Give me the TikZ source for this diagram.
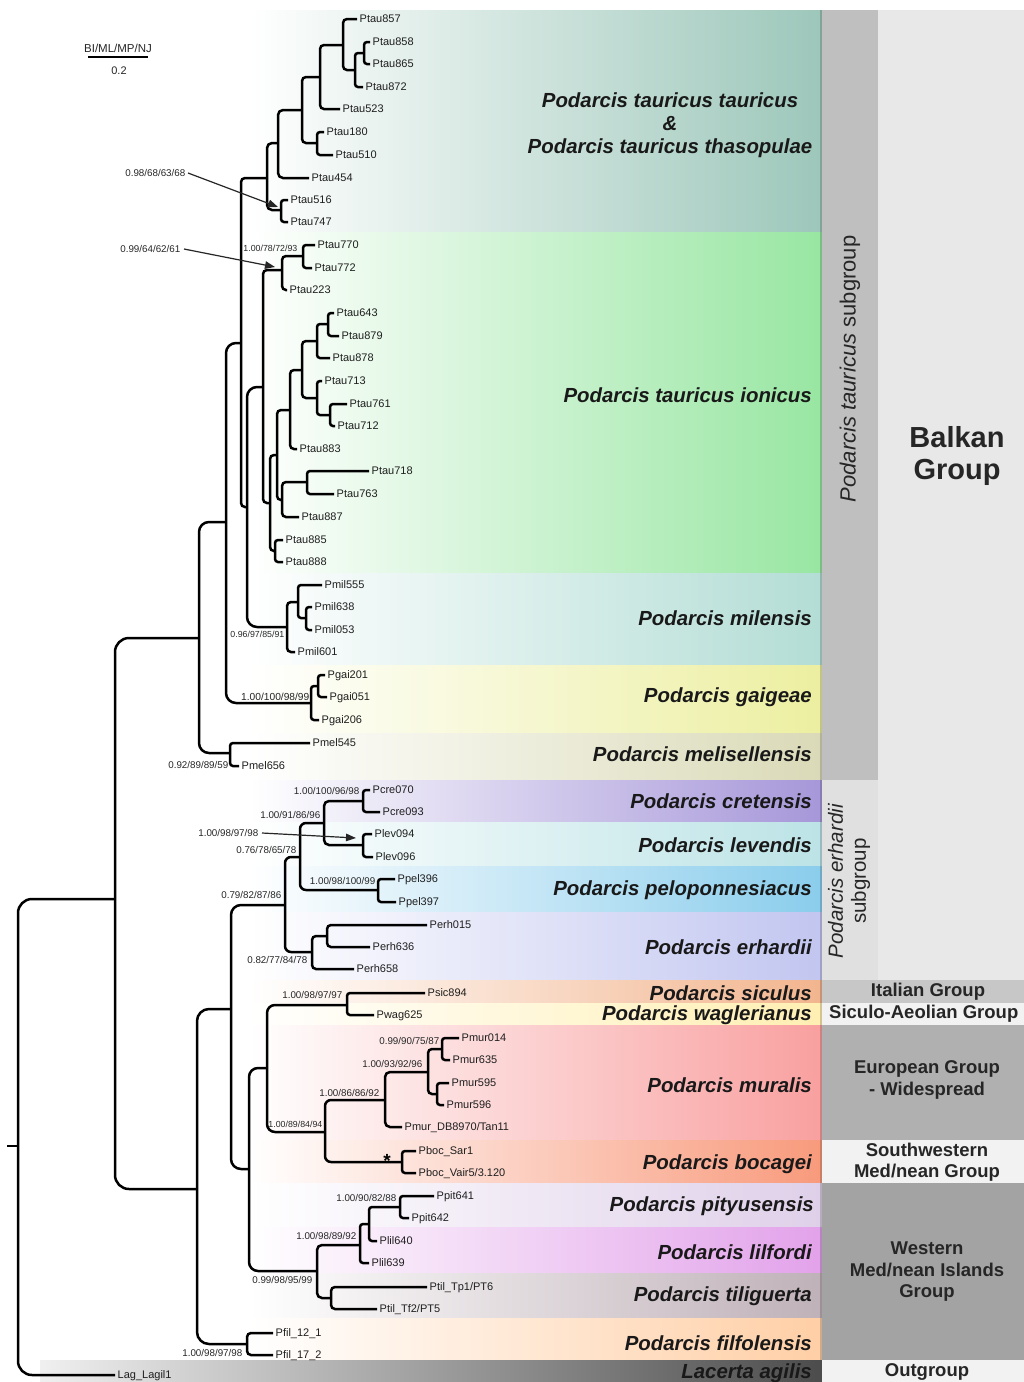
\documentclass[tikz,border=0pt]{standalone}
\usepackage{fontspec}
\setmainfont{Liberation Sans}
\usetikzlibrary{arrows.meta}
\definecolor{cT}{HTML}{9DC7BA}
\definecolor{cI}{HTML}{98E6A2}
\definecolor{cMil}{HTML}{B3DDD5}
\definecolor{cGai}{HTML}{ECEFA0}
\definecolor{cMel}{HTML}{DADAB8}
\definecolor{cCre}{HTML}{A697D9}
\definecolor{cLev}{HTML}{BCE3E6}
\definecolor{cPel}{HTML}{8ACDEC}
\definecolor{cErh}{HTML}{C2C6F0}
\definecolor{cSic}{HTML}{F2B58E}
\definecolor{cWag}{HTML}{FFEFB2}
\definecolor{cMur}{HTML}{F9A0A0}
\definecolor{cBoc}{HTML}{F89A7C}
\definecolor{cPit}{HTML}{DFD0E9}
\definecolor{cLil}{HTML}{E2A2EA}
\definecolor{cTil}{HTML}{BFB1B8}
\definecolor{cFil}{HTML}{FFCFA6}
\definecolor{cLac}{HTML}{4C4C4C}
\begin{document}
\begin{tikzpicture}[x=1pt,y=-1pt,
 brn/.style={line width=2.5pt, black},
 tipl/.style={anchor=west, inner sep=2.5pt, text height=7.9pt, text depth=0pt, font=\fontsize{11}{12}\selectfont, text=black!88},
 bs/.style={anchor=east, inner sep=0.5pt, text height=7pt, text depth=0pt, font=\fontsize{9.8}{10}\selectfont, text=black!85},
 bss/.style={bs, text height=6.3pt, font=\fontsize{8.8}{9}\selectfont},
 sp/.style={anchor=east, inner sep=0pt, font=\bfseries\itshape\fontsize{20.4}{23}\selectfont, text=black!90},
 grp/.style={align=center, inner sep=0pt, font=\bfseries\fontsize{18.5}{21.5}\selectfont, text=black!85},
 arr/.style={-{Triangle[length=10pt,width=7.5pt]}, line width=1.2pt, black!85},
]
\useasboundingbox (0,0) rectangle (1024,1382);
\fill[white] (0,0) rectangle (1024,1382);

% ---------- coloured bands ----------
\foreach \c/\ya/\yb in {cT/10/232, cI/232/573, cMil/573/665, cGai/665/733, cMel/733/780,
  cCre/780/822, cLev/822/866, cPel/866/912, cErh/912/980, cSic/980/1003, cWag/1003/1025,
  cMur/1025/1140, cBoc/1140/1183, cPit/1183/1227, cLil/1227/1273, cTil/1273/1318, cFil/1318/1360}{
  \shade[left color=white, right color=\c] (250,\ya) rectangle (822,\yb);
  \fill[\c!82!black] (819.5,\ya) rectangle (822,\yb);
}
\shade[left color=black!6, right color=cLac] (40,1360) rectangle (822,1382);

% ---------- right panels ----------
\fill[black!25] (822,10) rectangle (878,780);
\fill[black!12] (822,780) rectangle (878,980);
\fill[black!9] (878,10) rectangle (1024,980);
\fill[black!22] (822,980) rectangle (1024,1003);
\fill[black!5] (822,1003) rectangle (1024,1025);
\fill[black!31] (822,1025) rectangle (1024,1140);
\fill[black!5] (822,1140) rectangle (1024,1183);
\fill[black!36] (822,1183) rectangle (1024,1360);
\fill[black!5] (822,1360) rectangle (1024,1382);

\node[rotate=90, inner sep=0pt, font=\fontsize{22}{24}\selectfont, text=black!85] (gTau) at (850,369) {\textit{Podarcis tauricus} subgroup};
\node[rotate=90, align=center, inner sep=0pt, font=\fontsize{20.5}{23}\selectfont, text=black!85] (gErh) at (849,881) {\textit{Podarcis erhardii}\\subgroup};
\node[align=center, inner sep=0pt, font=\bfseries\fontsize{29}{32}\selectfont, text=black!85] (gBal) at (957,456) {Balkan\\Group};
\node[grp] (gIta) at (928,992) {Italian Group};
\node[grp, anchor=west] (gSic) at (829,1014) {Siculo-Aeolian Group};
\node[grp] (gEur) at (927,1080) {European Group\\- Widespread};
\node[grp] (gSW) at (927,1162) {Southwestern\\Med/nean Group};
\node[grp] (gWM) at (927,1272) {Western\\Med/nean Islands\\Group};
\node[grp] (gOut) at (927,1372) {Outgroup};

% ---------- species labels ----------
\node[sp, anchor=center, align=center] (spT) at (670,125) {Podarcis tauricus tauricus\\\&\\Podarcis tauricus thasopulae};
\node[sp] (spI) at (812,395) {Podarcis tauricus ionicus};
\node[sp] (spMil) at (812,618) {Podarcis milensis};
\node[sp] (spGai) at (812,697) {Podarcis gaigeae};
\node[sp] (spMel) at (812,754) {Podarcis melisellensis};
\node[sp] (spCre) at (812,801) {Podarcis cretensis};
\node[sp] (spLev) at (812,845) {Podarcis levendis};
\node[sp] (spPel) at (812,890) {Podarcis peloponnesiacus};
\node[sp] (spErh) at (812,947) {Podarcis erhardii};
\node[sp] (spSic) at (812,993) {Podarcis siculus};
\node[sp] (spWag) at (812,1015) {Podarcis waglerianus};
\node[sp] (spMur) at (812,1085) {Podarcis muralis};
\node[sp] (spBoc) at (812,1164) {Podarcis bocagei};
\node[sp] (spPit) at (814,1206) {Podarcis pityusensis};
\node[sp] (spLil) at (812,1252) {Podarcis lilfordi};
\node[sp] (spTil) at (812,1296) {Podarcis tiliguerta};
\node[sp] (spFil) at (812,1343) {Podarcis filfolensis};
\node[sp] (spLac) at (812,1373) {Lacerta agilis};

% ---------- scale bar ----------
\node[inner sep=0pt, font=\fontsize{11.5}{12}\selectfont, text=black!85] (sbl) at (118,48) {BI/ML/MP/NJ};
\coordinate (sb1) at (88,57);
\coordinate (sb2) at (148,57);
\draw[line width=2.2pt] (sb1) -- (sb2);
\node[inner sep=0pt, font=\fontsize{11}{12}\selectfont, text=black!85] (sbv) at (119,71) {0.2};

% ---------- tips ----------
\node[tipl] (t857) at (357,19) {Ptau857};
\node[tipl] (t858) at (370,42) {Ptau858};
\node[tipl] (t865) at (370,64) {Ptau865};
\node[tipl] (t872) at (363,87) {Ptau872};
\node[tipl] (t523) at (340,109) {Ptau523};
\node[tipl] (t180) at (324,132) {Ptau180};
\node[tipl] (t510) at (333,155) {Ptau510};
\node[tipl] (t454) at (309,178) {Ptau454};
\node[tipl] (t516) at (288,200) {Ptau516};
\node[tipl] (t747) at (288,222) {Ptau747};
\node[tipl] (t770) at (315,245) {Ptau770};
\node[tipl] (t772) at (312,268) {Ptau772};
\node[tipl] (t223) at (287,290) {Ptau223};
\node[tipl] (t643) at (334,313) {Ptau643};
\node[tipl] (t879) at (339,336) {Ptau879};
\node[tipl] (t878) at (330,358) {Ptau878};
\node[tipl] (t713) at (322,381) {Ptau713};
\node[tipl] (t761) at (347,404) {Ptau761};
\node[tipl] (t712) at (335,426) {Ptau712};
\node[tipl] (t883) at (297,449) {Ptau883};
\node[tipl] (t718) at (369,471) {Ptau718};
\node[tipl] (t763) at (334,494) {Ptau763};
\node[tipl] (t887) at (299,517) {Ptau887};
\node[tipl] (t885) at (283,540) {Ptau885};
\node[tipl] (t888) at (283,562) {Ptau888};
\node[tipl] (t555) at (322,585) {Pmil555};
\node[tipl] (t638) at (312,607) {Pmil638};
\node[tipl] (t053) at (312,630) {Pmil053};
\node[tipl] (t601) at (295,652) {Pmil601};
\node[tipl] (t201) at (325,675) {Pgai201};
\node[tipl] (t051) at (327,697) {Pgai051};
\node[tipl] (t206) at (319,720) {Pgai206};
\node[tipl] (t545) at (310,743) {Pmel545};
\node[tipl] (t656) at (239,766) {Pmel656};
\node[tipl] (t070) at (370,790) {Pcre070};
\node[tipl] (t093) at (380,812) {Pcre093};
\node[tipl] (t094) at (372,834) {Plev094};
\node[tipl] (t096) at (373,857) {Plev096};
\node[tipl] (t396) at (395,879) {Ppel396};
\node[tipl] (t397) at (396,902) {Ppel397};
\node[tipl] (t015) at (427,925) {Perh015};
\node[tipl] (t636) at (370,947) {Perh636};
\node[tipl] (t658) at (354,969) {Perh658};
\node[tipl] (t894) at (425,993) {Psic894};
\node[tipl] (t625) at (374,1015) {Pwag625};
\node[tipl] (t014) at (459,1038) {Pmur014};
\node[tipl] (t635) at (450,1060) {Pmur635};
\node[tipl] (t595) at (449,1083) {Pmur595};
\node[tipl] (t596) at (444,1105) {Pmur596};
\node[tipl] (tDB) at (402,1127) {Pmur\_DB8970/Tan11};
\node[tipl] (tS1) at (416,1151) {Pboc\_Sar1};
\node[tipl] (tV5) at (416,1173) {Pboc\_Vair5/3.120};
\node[tipl] (t641) at (434,1196) {Ppit641};
\node[tipl] (t642) at (409,1218) {Ppit642};
\node[tipl] (t640) at (377,1241) {Plil640};
\node[tipl] (t639) at (369,1263) {Plil639};
\node[tipl] (tTp) at (427,1287) {Ptil\_Tp1/PT6};
\node[tipl] (tTf) at (377,1309) {Ptil\_Tf2/PT5};
\node[tipl] (t121) at (273,1333) {Pfil\_12\_1};
\node[tipl] (t172) at (273,1355) {Pfil\_17\_2};
\node[tipl] (tLag) at (115,1375) {Lag\_Lagil1};

% ---------- internal nodes ----------
\coordinate (a1) at (364,53);  \coordinate (a2) at (355,70);  \coordinate (a3) at (343,45);
\coordinate (a4) at (320,77);  \coordinate (a5) at (317,143); \coordinate (a6) at (302,110);
\coordinate (a7) at (278,143); \coordinate (a8) at (281,210); \coordinate (a9) at (267,178);
\coordinate (b1) at (303,256); \coordinate (b2) at (282,270); \coordinate (b3) at (263,387);
\coordinate (c1) at (328,324); \coordinate (c2) at (317,341); \coordinate (c3) at (330,415);
\coordinate (c4) at (317,398); \coordinate (c5) at (302,370); \coordinate (c6) at (290,410);
\coordinate (c7) at (307,482); \coordinate (c8) at (282,500); \coordinate (c9) at (277,455);
\coordinate (c10) at (275,551); \coordinate (c11) at (270,503);
\coordinate (d1) at (306,618); \coordinate (d2) at (298,602); \coordinate (d3) at (287,627);
\coordinate (e1) at (318,686); \coordinate (e2) at (311,703);
\coordinate (f1) at (230,753);
\coordinate (g1) at (247,507); \coordinate (g2) at (241,343); \coordinate (g3) at (226,522);
\coordinate (g4) at (199,638);
\coordinate (h1) at (363,801); \coordinate (h2) at (363,845); \coordinate (h3) at (324,823);
\coordinate (h4) at (378,890); \coordinate (h5) at (300,857); \coordinate (h6) at (327,936);
\coordinate (h7) at (312,952); \coordinate (h8) at (285,905);
\coordinate (i1) at (347,1005);
\coordinate (j1) at (442,1049); \coordinate (j2) at (437,1094); \coordinate (j3) at (428,1072);
\coordinate (j4) at (385,1100); \coordinate (j5) at (402,1162); \coordinate (j6) at (325,1132);
\coordinate (j7) at (267,1068);
\coordinate (k1) at (400,1207); \coordinate (k2) at (369,1224); \coordinate (k3) at (360,1245);
\coordinate (k4) at (331,1298); \coordinate (k5) at (317,1271); \coordinate (k6) at (249,1169);
\coordinate (l1) at (247,1344);
\coordinate (n230) at (231,1009); \coordinate (n197) at (197,1189);
\coordinate (n115) at (115,899);
\coordinate (root) at (18,1146); \coordinate (stub) at (7,1146);

% ---------- branches ----------
\draw[brn, rounded corners=3pt] (t858.west) -| (a1) |- (t865.west);
\draw[brn, rounded corners=3pt] (a1) -| (a2) |- (t872.west);
\draw[brn, rounded corners=4pt] (t857.west) -| (a3) |- (a2);
\draw[brn, rounded corners=4pt] (a3) -| (a4) |- (t523.west);
\draw[brn, rounded corners=3pt] (t180.west) -| (a5) |- (t510.west);
\draw[brn, rounded corners=4pt] (a4) -| (a6) |- (a5);
\draw[brn, rounded corners=5pt] (a6) -| (a7) |- (t454.west);
\draw[brn, rounded corners=3pt] (t516.west) -| (a8) |- (t747.west);
\draw[brn, rounded corners=5pt] (a7) -| (a9) |- (a8);

\draw[brn, rounded corners=3pt] (t770.west) -| (b1) |- (t772.west);
\draw[brn, rounded corners=4pt] (b1) -| (b2) |- (t223.west);
\draw[brn, rounded corners=3pt] (t643.west) -| (c1) |- (t879.west);
\draw[brn, rounded corners=3pt] (c1) -| (c2) |- (t878.west);
\draw[brn, rounded corners=3pt] (t761.west) -| (c3) |- (t712.west);
\draw[brn, rounded corners=3pt] (t713.west) -| (c4) |- (c3);
\draw[brn, rounded corners=4pt] (c2) -| (c5) |- (c4);
\draw[brn, rounded corners=4pt] (c5) -| (c6) |- (t883.west);
\draw[brn, rounded corners=3pt] (t718.west) -| (c7) |- (t763.west);
\draw[brn, rounded corners=4pt] (c7) -| (c8) |- (t887.west);
\draw[brn, rounded corners=4pt] (c6) -| (c9) |- (c8);
\draw[brn, rounded corners=3pt] (t885.west) -| (c10) |- (t888.west);
\draw[brn, rounded corners=4pt] (c9) -| (c11) |- (c10);
\draw[brn, rounded corners=4pt] (b2) -| (b3) |- (c11);

\draw[brn, rounded corners=3pt] (t638.west) -| (d1) |- (t053.west);
\draw[brn, rounded corners=3pt] (t555.west) -| (d2) |- (d1);
\draw[brn, rounded corners=4pt] (d2) -| (d3) |- (t601.west);
\draw[brn, rounded corners=3pt] (t201.west) -| (e1) |- (t051.west);
\draw[brn, rounded corners=3pt] (e1) -| (e2) |- (t206.west);
\draw[brn, rounded corners=3pt] (t545.west) -| (f1) |- (t656.west);

\draw[brn, rounded corners=10pt] (b3) -| (g1) |- (d3);
\draw[brn, rounded corners=4pt] (a9) -| (g2) |- (g1);
\draw[brn, rounded corners=10pt] (g2) -| (g3) |- (e2);
\draw[brn, rounded corners=10pt] (g3) -| (g4) |- (f1);

\draw[brn, rounded corners=3pt] (t070.west) -| (h1) |- (t093.west);
\draw[brn, rounded corners=3pt] (t094.west) -| (h2) |- (t096.west);
\draw[brn, rounded corners=5pt] (h1) -| (h3) |- (h2);
\draw[brn, rounded corners=3pt] (t396.west) -| (h4) |- (t397.west);
\draw[brn, rounded corners=6pt] (h3) -| (h5) |- (h4);
\draw[brn, rounded corners=4pt] (t015.west) -| (h6) |- (t636.west);
\draw[brn, rounded corners=4pt] (h6) -| (h7) |- (t658.west);
\draw[brn, rounded corners=6pt] (h5) -| (h8) |- (h7);

\draw[brn, rounded corners=3pt] (t894.west) -| (i1) |- (t625.west);
\draw[brn, rounded corners=3pt] (t014.west) -| (j1) |- (t635.west);
\draw[brn, rounded corners=3pt] (t595.west) -| (j2) |- (t596.west);
\draw[brn, rounded corners=4pt] (j1) -| (j3) |- (j2);
\draw[brn, rounded corners=5pt] (j3) -| (j4) |- (tDB.west);
\draw[brn, rounded corners=3pt] (tS1.west) -| (j5) |- (tV5.west);
\draw[brn, rounded corners=6pt] (j4) -| (j6) |- (j5);
\draw[brn, rounded corners=8pt] (i1) -| (j7) |- (j6);

\draw[brn, rounded corners=3pt] (t641.west) -| (k1) |- (t642.west);
\draw[brn, rounded corners=3pt] (k1) -| (k2) |- (t640.west);
\draw[brn, rounded corners=3pt] (k2) -| (k3) |- (t639.west);
\draw[brn, rounded corners=4pt] (tTp.west) -| (k4) |- (tTf.west);
\draw[brn, rounded corners=5pt] (k3) -| (k5) |- (k4);
\draw[brn, rounded corners=9pt] (j7) -| (k6) |- (k5);
\draw[brn, rounded corners=4pt] (t121.west) -| (l1) |- (t172.west);

\draw[brn, rounded corners=10pt] (h8) -| (n230) |- (k6);
\draw[brn, rounded corners=12pt] (n230) -| (n197) |- (l1);
\draw[brn, rounded corners=14pt] (g4) -| (n115) |- (n197);
\draw[brn, rounded corners=14pt] (n115) -| (root) |- (tLag.west);
\draw[brn] (stub) -- (root);

% ---------- support values ----------
\node[bss] (v1) at (298,248) {1.00/78/72/93};
\node[bss] (v2) at (285,634) {0.96/97/85/91};
\node[bs, font=\fontsize{10.2}{11}\selectfont] (v3) at (310,697) {1.00/100/98/99};
\node[bs] (v4) at (229,765) {0.92/89/89/59};
\node[bs] (v5) at (360,791) {1.00/100/96/98};
\node[bs] (v6) at (321,815) {1.00/91/86/96};
\node[bs] (v7) at (297,850) {0.76/78/65/78};
\node[bs] (v8) at (376,881) {1.00/98/100/99};
\node[bs] (v9) at (282,895) {0.79/82/87/86};
\node[bs] (v10) at (308,960) {0.82/77/84/78};
\node[bs] (v11) at (343,995) {1.00/98/97/97};
\node[bs] (v12) at (440,1041) {0.99/90/75/87};
\node[bs] (v13) at (423,1064) {1.00/93/92/96};
\node[bs] (v14) at (380,1093) {1.00/86/86/92};
\node[bss] (v15) at (323,1124) {1.00/89/84/94};
\node[bs] (v16) at (397,1198) {1.00/90/82/88};
\node[bs] (v17) at (357,1236) {1.00/98/89/92};
\node[bs] (v18) at (313,1280) {0.99/98/95/99};
\node[bs] (v19) at (243,1353) {1.00/98/97/98};
\node[inner sep=0pt, font=\bfseries\fontsize{19}{19}\selectfont] (ast) at (387,1161) {*};

% ---------- arrows ----------
\node[bs] (s1) at (186,173) {0.98/68/63/68};
\node[bs] (s2) at (181,249) {0.99/64/62/61};
\node[bs] (s3) at (259,833) {1.00/98/97/98};
\coordinate (p1) at (278,207);
\coordinate (p2) at (275,267);
\coordinate (p3) at (356,838);
\draw[arr] ([xshift=2pt]s1.east) -- (p1);
\draw[arr] ([xshift=3pt]s2.east) -- (p2);
\draw[arr] ([xshift=3pt]s3.east) -- (p3);
\end{tikzpicture}
\end{document}
